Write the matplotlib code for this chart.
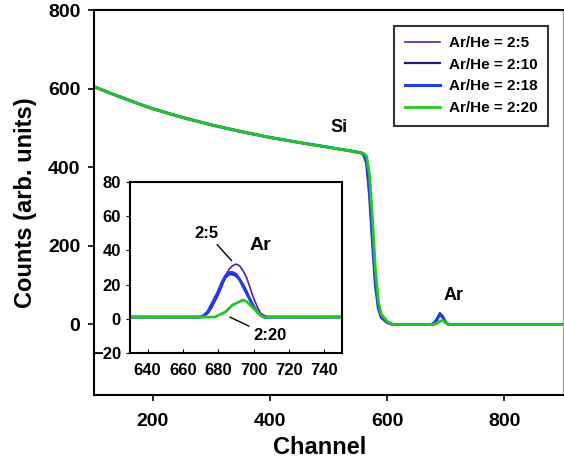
import numpy as np
import matplotlib.pyplot as plt

plt.rcParams['font.family'] = ['Liberation Sans', 'DejaVu Sans']
plt.rcParams['font.weight'] = 'bold'

labels = ['Ar/He = 2:5', 'Ar/He = 2:10', 'Ar/He = 2:18', 'Ar/He = 2:20']
colors = ['#5b1f9c', '#1c1c80', '#1f3cf0', '#22c81e']
widths = [1.2, 1.6, 2.2, 2.0]

# main spectrum
ch_main = [100, 125, 150, 175, 200, 250, 300, 350, 400, 450, 500, 540, 555, 560,
           565, 570, 575, 580, 585, 590, 600, 610, 670, 675, 680, 685, 690, 695,
           700, 705, 710, 900]
edge_a = [605, 590, 576, 562, 549, 527, 508, 491, 476, 463, 451, 441, 437, 434,
          422, 360, 240, 120, 50, 22, 6, 0, 0, 0, 3, 14, 30, 22, 6, 0, 0, 0]
edge_b = [605, 590, 576, 562, 549, 527, 508, 491, 476, 463, 451, 441, 437, 433,
          415, 340, 220, 105, 45, 20, 5, 0, 0, 0, 3, 13, 25, 18, 5, 0, 0, 0]
edge_c = [605, 590, 576, 562, 549, 527, 508, 491, 476, 463, 451, 441, 437, 432,
          410, 330, 210, 100, 42, 18, 5, 0, 0, 0, 3, 13, 26, 19, 5, 0, 0, 0]
edge_d = [605, 590, 576, 562, 549, 527, 508, 491, 476, 463, 451, 441, 437, 435,
          428, 380, 270, 140, 60, 26, 8, 0, 0, 0, 0, 3, 8, 10, 4, 0, 0, 0]

# inset: Ar peak
ch_ins = [630, 668, 670, 672, 674, 676, 678, 680, 682, 684, 686, 688, 690, 692,
          694, 696, 698, 700, 702, 704, 706, 708, 710, 750]
ar_a = [1, 1, 1, 2, 3, 6, 10, 14, 19, 25, 29, 31, 32, 31, 28, 24, 18, 12, 7, 3, 2, 1, 1, 1]
ar_b = [1, 1, 1, 2, 4, 7, 11, 16, 20, 24, 26, 26, 25, 23, 20, 16, 11, 7, 4, 2, 1, 1, 1, 1]
ar_c = [1, 1, 1, 2, 4, 8, 12, 16, 21, 25, 27, 27, 26, 23, 19, 15, 11, 7, 4, 2, 1, 1, 1, 1]
ar_d = [1, 1, 1, 1, 1, 1, 1, 2, 3, 4, 6, 8, 9, 10, 11, 10, 8, 6, 4, 2, 1, 1, 1, 1]

main_sets = [edge_a, edge_b, edge_c, edge_d]
ins_sets = [ar_a, ar_b, ar_c, ar_d]

fig = plt.figure(figsize=(5.64, 4.59), dpi=100)
ax = fig.add_axes([0.167, 0.139, 0.831, 0.839])

for y, c, w, lab in zip(main_sets, colors, widths, labels):
    ax.plot(ch_main, y, color=c, lw=w, label=lab)

ax.set_xlim(100, 900)
ax.set_ylim(-180, 800)
ax.set_xticks([200, 400, 600, 800])
ax.set_yticks([0, 200, 400, 600, 800])
ax.tick_params(direction='out', labelsize=14, width=1.2, length=4, pad=6)
ax.tick_params(axis='x', pad=9)
ax.spines['right'].set_color('#999999')
for s in ['left', 'bottom', 'top']:
    ax.spines[s].set_linewidth(1.5)
ax.set_xlabel('Channel', fontsize=17, fontweight='bold')
ax.xaxis.set_label_coords(0.48, -0.105)
ax.set_ylabel('Counts (arb. units)', fontsize=17, fontweight='bold', labelpad=8)

ax.text(518, 500, 'Si', fontsize=13, fontweight='bold', ha='center', va='center')
ax.text(714, 74, 'Ar', fontsize=13, fontweight='bold', ha='center', va='center')

leg = ax.legend(loc='upper right', bbox_to_anchor=(0.968, 0.96), borderaxespad=0,
                fontsize=11, frameon=True, fancybox=False, shadow=False,
                handlelength=2.3, borderpad=0.7, labelspacing=0.5,
                handletextpad=0.55, edgecolor='black')
leg.get_frame().set_linewidth(1.5)
for t in leg.get_texts():
    t.set_fontweight('bold')

# inset
axi = fig.add_axes([0.2305, 0.231, 0.376, 0.3725])
for y, c, w in zip(ins_sets, colors, widths):
    axi.plot(ch_ins, y, color=c, lw=w)
axi.set_xlim(630, 750)
axi.set_ylim(-20, 80)
axi.set_xticks([640, 660, 680, 700, 720, 740])
axi.set_yticks([-20, 0, 20, 40, 60, 80])
axi.tick_params(axis='x', direction='in', labelsize=12, length=3, pad=7)
axi.tick_params(axis='y', direction='out', labelsize=12, length=3)
for s in axi.spines.values():
    s.set_linewidth(1.5)

axi.annotate('2:5', xy=(687.5, 34), xytext=(673.5, 50), fontsize=12, fontweight='bold',
             ha='center', va='center',
             arrowprops=dict(arrowstyle='-', color='black', lw=1, shrinkA=1, shrinkB=0))
axi.annotate('2:20', xy=(686.5, 1), xytext=(709, -10), fontsize=12, fontweight='bold',
             ha='center', va='center',
             arrowprops=dict(arrowstyle='-', color='black', lw=1, shrinkA=1, shrinkB=0))
axi.text(704, 43, 'Ar', fontsize=14, fontweight='bold', ha='center', va='center')

fig.savefig('out.png', dpi=100)
